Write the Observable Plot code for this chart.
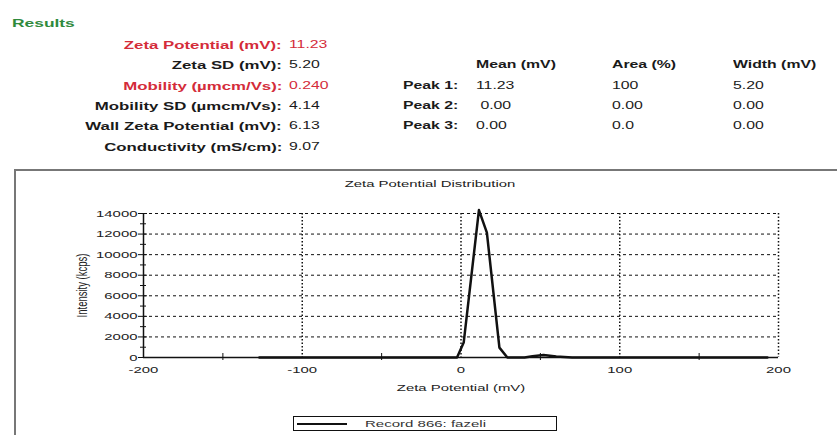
<!DOCTYPE html>
<html>
<head>
<meta charset="utf-8">
<script src="https://cdn.jsdelivr.net/npm/d3@7"></script>
<script src="https://cdn.jsdelivr.net/npm/@observablehq/plot@0.6"></script>
<style>
  html, body { margin: 0; padding: 0; background: #fff; }
  body { width: 837px; height: 435px; position: relative; overflow: hidden; font-family: "Liberation Sans", Arial, sans-serif; color: #1a1a1a; }
  .t { position: absolute; white-space: nowrap; line-height: 1; }
  .s { display: inline-block; transform: scaleX(1.58); }
  .r .s { transform-origin: right center; }
  .l .s { transform-origin: left center; }
  .b { font-weight: bold; font-size: 10px; }
  .bl { font-weight: bold; font-size: 10.5px; }
  .bl .s { transform: scaleX(1.6); }
  .v { font-size: 10px; }
  .red { color: #d42c3a; }
  #frame { position: absolute; left: 14px; top: 169px; width: 840px; height: 280px; border-left: 2px solid #777; border-top: 2px solid #777; box-sizing: border-box; }
  #chart { position: absolute; left: 0; top: 169px; }
  #legend { position: absolute; left: 293px; top: 416px; width: 264px; height: 15px; border: 1px solid #111; box-sizing: border-box; }
  #legend .line { position: absolute; left: 3px; top: 5.5px; width: 50px; height: 2px; background: #111; }
  #legend .lt { position: absolute; left: 71px; top: 2px; font-size: 9.5px; color: #333; }
</style>
</head>
<body>
<div id="frame"></div>
<div id="chart"></div>
<div id="legend"><div class="line"></div><div class="lt t l"><span class="s" id="legendText"></span></div></div>
<script>
// ---- Data ----
const resultLabels = ["Zeta Potential (mV):", "Zeta SD (mV):", "Mobility (µmcm/Vs):", "Mobility SD (µmcm/Vs):", "Wall Zeta Potential (mV):", "Conductivity (mS/cm):"];
const resultValues = ["11.23", "5.20", "0.240", "4.14", "6.13", "9.07"];
const resultHighlight = [true, false, true, false, false, false];

const peakHeaders = ["Mean (mV)", "Area (%)", "Width (mV)"];
const peakNames = ["Peak 1:", "Peak 2:", "Peak 3:"];
const peakMean = ["11.23", " 0.00", "0.00"];
const peakArea = ["100", "0.00", "0.0"];
const peakWidth = ["5.20", "0.00", "0.00"];

const zeta = [-127, -100, -50, -10, -2.5, 1.7, 11.3, 16.3, 24.2, 29.2, 40, 45, 52, 60, 70, 100, 150, 193];
const intensity = [0, 0, 0, 0, 0, 1450, 14330, 12140, 960, 0, 0, 120, 250, 100, 0, 0, 0, 0];

const xTicks = [-200, -100, 0, 100, 200];
const xMinorTicks = [-150, -50, 50, 150];
const xGrid = [-100, 0, 100, 200];
const yTicks = [0, 2000, 4000, 6000, 8000, 10000, 12000, 14000];
const yMinorTicks = [1000, 3000, 5000, 7000, 9000, 11000, 13000];
const yGrid = [2000, 4000, 6000, 8000, 10000, 12000, 14000];

const chartTitle = "Zeta Potential Distribution";
const xLabel = "Zeta Potential (mV)";
const yLabel = "Intensity (kcps)";
const legendLabel = "Record 866: fazeli";
const sectionTitle = "Results";

// ---- Header text (HTML) ----
function addText(txt, cls, style) {
  const d = document.createElement("div");
  d.className = "t " + cls;
  Object.assign(d.style, style);
  const s = document.createElement("span");
  s.className = "s";
  s.textContent = txt;
  d.appendChild(s);
  document.body.appendChild(d);
  return d;
}
addText(sectionTitle, "l", {left: "12px", top: "18px", fontSize: "11px", fontWeight: "bold", color: "#2f8a3c"});
const rowY = [40, 60, 81, 101, 121, 142];
resultLabels.forEach((lab, i) => {
  const red = resultHighlight[i] ? " red" : "";
  addText(lab, "r bl" + red, {right: (837 - 282) + "px", top: (rowY[i] - 0.5) + "px"});
  addText(resultValues[i], "l v" + red, {left: "289px", top: rowY[i] + "px"});
});
const colX = [476, 612, 733];
peakHeaders.forEach((h, j) => addText(h, "l b", {left: colX[j] + "px", top: rowY[1] + "px"}));
peakNames.forEach((p, i) => {
  addText(p, "l b", {left: "403px", top: rowY[i + 2] + "px"});
  addText(peakMean[i], "l v", {left: colX[0] + "px", top: rowY[i + 2] + "px", whiteSpace: "pre"});
  addText(peakArea[i], "l v", {left: colX[1] + "px", top: rowY[i + 2] + "px"});
  addText(peakWidth[i], "l v", {left: colX[2] + "px", top: rowY[i + 2] + "px"});
});
document.getElementById("legendText").textContent = legendLabel;

// ---- Chart ----
const data = zeta.map((z, i) => ({zeta: z, intensity: intensity[i]}));

const plot = Plot.plot({
  width: 837,
  height: 266,
  marginLeft: 143,
  marginRight: 59,
  marginTop: 44,
  marginBottom: 78,
  style: {fontFamily: "'Liberation Sans', Arial, sans-serif", fontSize: "9.5px", color: "#222", background: "transparent"},
  x: {domain: [-200, 200]},
  y: {domain: [0, 14000]},
  marks: [
    Plot.gridY(yGrid, {stroke: "#111", strokeOpacity: 1, strokeWidth: 1, strokeDasharray: "3,3"}),
    Plot.gridX(xGrid, {stroke: "#111", strokeOpacity: 1, strokeWidth: 1.5, strokeDasharray: "1.5,2"}),
    Plot.ruleY([0], {stroke: "#111", strokeWidth: 1.5}),
    Plot.ruleX([-200], {stroke: "#111", strokeWidth: 1.5}),
    Plot.axisY({ticks: yTicks, tickSize: 5, tickPadding: 1, tickFormat: d => String(d), label: yLabel, labelAnchor: "center", labelArrow: "none", labelOffset: 65, stroke: "#111"}),
    Plot.axisY({ticks: yTicks, tickSize: -4, text: null, label: null, stroke: "#111"}),
    Plot.axisY({ticks: yMinorTicks, tickSize: 3, text: null, label: null, stroke: "#111"}),
    Plot.axisY({ticks: yMinorTicks, tickSize: -3, text: null, label: null, stroke: "#111"}),
    Plot.axisX({ticks: xTicks, tickSize: 0, tickPadding: 9, tickFormat: d => String(d), label: xLabel, labelAnchor: "center", labelArrow: "none", labelOffset: 33}),
    Plot.axisX({ticks: xMinorTicks, tickSize: 3, text: null, label: null, stroke: "#111"}),
    Plot.axisX({ticks: xMinorTicks, tickSize: -4, text: null, label: null, stroke: "#111"}),
    Plot.line(data, {x: "zeta", y: "intensity", stroke: "#111", strokeWidth: 2.5, strokeLinejoin: "round"}),
    Plot.text([chartTitle], {frameAnchor: "top", dx: -31, dy: -33, fontSize: 9.5, fill: "#222"})
  ]
});
document.getElementById("chart").appendChild(plot);

// Horizontal stretch of the glyphs, as in the reference scan
const S = 1.57;
plot.querySelectorAll("text").forEach(t => {
  const bb = t.getBBox();
  const tr = t.getAttribute("transform") || "";
  if (tr.includes("rotate")) {
    const cy = bb.y + bb.height / 2;
    t.setAttribute("transform", tr + ` translate(0,${cy}) scale(1,${S}) translate(0,${-cy})`);
  } else {
    const anchor = getComputedStyle(t).textAnchor;
    const ax = anchor === "end" ? bb.x + bb.width : anchor === "middle" ? bb.x + bb.width / 2 : bb.x;
    t.setAttribute("transform", tr + ` translate(${ax},0) scale(${S},1) translate(${-ax},0)`);
  }
});
</script>
</body>
</html>
